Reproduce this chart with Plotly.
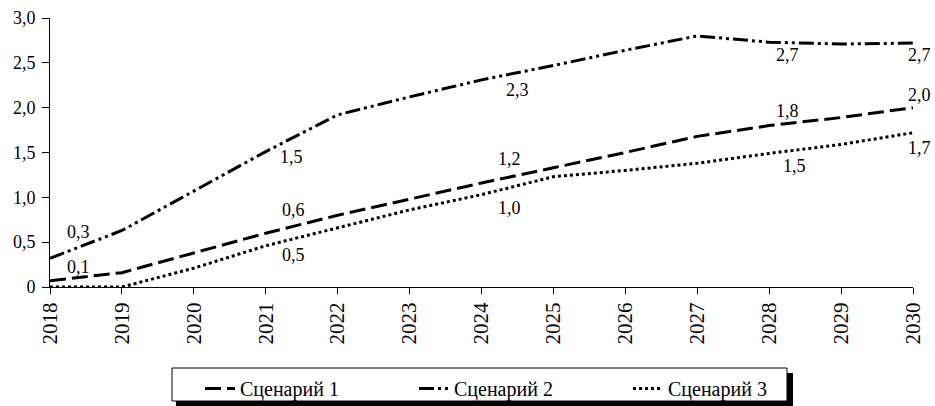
import plotly.graph_objects as go

years = [2018, 2019, 2020, 2021, 2022, 2023, 2024, 2025, 2026, 2027, 2028, 2029, 2030]
scenario1 = [0.07, 0.16, 0.38, 0.60, 0.80, 0.98, 1.16, 1.33, 1.50, 1.68, 1.80, 1.89, 2.00]
scenario2 = [0.32, 0.63, 1.07, 1.51, 1.92, 2.12, 2.31, 2.47, 2.64, 2.80, 2.73, 2.71, 2.72]
scenario3 = [0.00, 0.00, 0.21, 0.46, 0.66, 0.86, 1.03, 1.23, 1.30, 1.38, 1.49, 1.59, 1.72]
names = ["Сценарий 1", "Сценарий 2", "Сценарий 3"]
y_tickvals = [0, 0.5, 1.0, 1.5, 2.0, 2.5, 3.0]
y_ticktext = ["0", "0,5", "1,0", "1,5", "2,0", "2,5", "3,0"]

series = [scenario1, scenario2, scenario3]
dashes = ["16px,6px", "15px,4px,3px,4px,3px,4px", "3px,3px"]

# label placement: (series idx, year idx, xshift, yshift)
label_pos = [
    (1, 0, 28, 26), (0, 0, 28, 14),
    (1, 3, 26, -5), (0, 3, 28, 23), (2, 3, 28, -9),
    (1, 6, 36, -10), (0, 6, 28, 24), (2, 6, 28, -13),
    (1, 10, 18, -13), (0, 10, 18, 15), (2, 10, 25, -13),
    (1, 12, 6, -12), (0, 12, 6, 13), (2, 12, 6, -15),
]

FONT = "Liberation Serif"

L, R, T, B = 50, 913, 18, 287
PW, PH = R - L, B - T

def px(x):
    return (x - L) / PW

def py(y):
    return (B - y) / PH

fig = go.Figure()
for s, name, d in zip(series, names, dashes):
    fig.add_trace(go.Scatter(x=years, y=s, name=name, mode="lines",
                             line=dict(color="black", width=3, dash=d)))

def fmt(v):
    return f"{round(v + 1e-9, 1):.1f}".replace(".", ",")

for si, yi, xs, ys in label_pos:
    fig.add_annotation(x=years[yi], y=series[si][yi], text=fmt(series[si][yi]),
                       showarrow=False, xshift=xs, yshift=ys,
                       font=dict(family=FONT, size=18, color="black"))

# legend drop shadow and frame
fig.add_shape(type="rect", xref="paper", yref="paper",
              x0=px(176), x1=px(793), y0=py(406), y1=py(373),
              fillcolor="black", line=dict(width=0), layer="below")
fig.add_shape(type="rect", xref="paper", yref="paper",
              x0=px(172), x1=px(787), y0=py(401), y1=py(368),
              fillcolor="white", line=dict(width=1, color="black"), layer="below")

fig.update_layout(
    width=935, height=406,
    margin=dict(l=L, r=935 - R, t=T, b=406 - B, autoexpand=False),
    paper_bgcolor="white", plot_bgcolor="white",
    font=dict(family=FONT, size=18, color="black"),
    showlegend=True,
    legend=dict(orientation="h", x=px(200), xanchor="left",
                y=py(369), yanchor="top",
                borderwidth=0, bgcolor="rgba(0,0,0,0)",
                font=dict(family=FONT, size=20, color="black"),
                entrywidth=169, entrywidthmode="pixels"),
    xaxis=dict(range=[2018, 2030], tickvals=years, tickangle=-90,
               showline=True, linecolor="black", linewidth=1,
               ticks="outside", ticklen=6, tickcolor="black",
               showgrid=False, zeroline=False, automargin=False,
               tickfont=dict(family=FONT, size=21, color="black")),
    yaxis=dict(range=[0, 3], tickvals=y_tickvals, ticktext=y_ticktext,
               showline=True, linecolor="black", linewidth=1,
               ticks="outside", ticklen=7, tickcolor="black",
               ticklabelstandoff=3,
               showgrid=False, zeroline=False, automargin=False,
               tickfont=dict(family=FONT, size=18, color="black")),
)

fig.write_html("out.html", config={"displayModeBar": False},
               post_script="document.body.style.margin='0px';document.body.style.overflow='hidden';")
